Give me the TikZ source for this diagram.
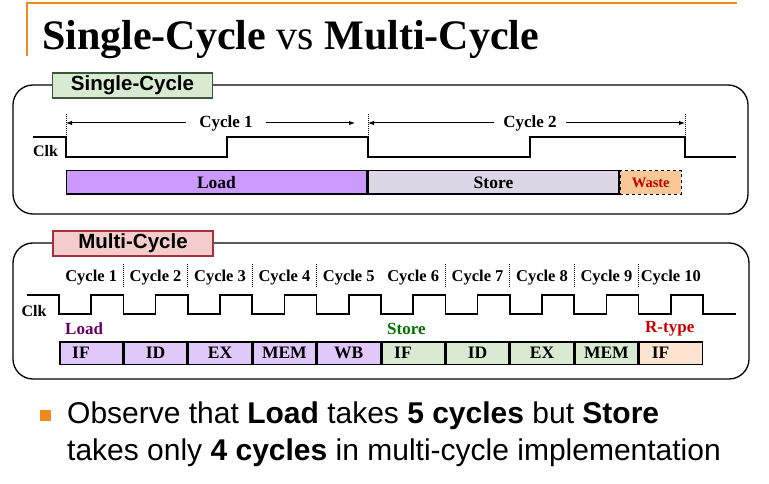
\documentclass[tikz,border=0pt]{standalone}
\usepackage{fontspec}
\setmainfont{Liberation Serif}
\setsansfont{Liberation Sans}
\usetikzlibrary{positioning,calc,arrows.meta}

\definecolor{slideorange}{HTML}{F08A1C}
\definecolor{loaddark}{HTML}{CC99FF}
\definecolor{loadlight}{HTML}{E0C8FA}
\definecolor{storegray}{HTML}{DDD6E6}
\definecolor{storelight}{HTML}{D9EAD3}
\definecolor{wastefill}{HTML}{FAC896}
\definecolor{rtypefill}{HTML}{FCE4D0}
\definecolor{taggreen}{HTML}{D9EAD3}
\definecolor{taggreenline}{HTML}{3A573A}
\definecolor{tagpink}{HTML}{F4CCCC}
\definecolor{tagpinkline}{HTML}{A8303C}
\definecolor{txtpurple}{HTML}{660066}
\definecolor{txtgreen}{HTML}{007000}
\definecolor{txtred}{HTML}{C80000}

\begin{document}
\begin{tikzpicture}[x=1pt, y=-1pt,
    panel/.style={draw, line width=1.3pt, rounded corners=20pt},
    tag/.style={draw, line width=1.3pt, minimum width=160pt, minimum height=25pt, inner sep=0pt,
        font=\sffamily\bfseries\fontsize{20.5}{24}\selectfont},
    clk/.style={line width=1.6pt},
    lbl/.style={font=\bfseries\fontsize{17}{20}\selectfont, inner sep=1pt},
    bar/.style={draw, line width=1.5pt, minimum height=23.5pt, inner sep=0pt,
        font=\bfseries\fontsize{17.5}{20}\selectfont},
    stagebox/.style={bar, minimum width=62.9pt, minimum height=22.5pt},
    iftext/.style={text width=38pt, align=left},
    cyclesep/.style={densely dotted, line width=1pt},
    span/.style={-{Latex[length=6pt,width=4.5pt]}, line width=1pt}
]
\useasboundingbox (0,0) rectangle (769,484);

% title bar
\draw[slideorange, line width=1.5pt] (27,56) -- (27,3) -- (737,3);
\node[anchor=base west, inner sep=0pt, font=\fontsize{42}{48}\selectfont] (title) at (42,50)
    {\textbf{Single-Cycle} vs \textbf{Multi-Cycle}};

% ---- single-cycle panel ----
\draw[panel] (13,85) rectangle (748,214);
\node[tag, fill=taggreen, draw=taggreenline] (sctag) at (132.5,85.5) {Single-Cycle};

\coordinate (s0) at (66,137);
\coordinate (s1) at (368,137);
\coordinate (s2) at (685,137);
\draw[clk] (33,137) -- (s0) -- ++(0,20) -- (227,157) -- (227,137) -- (s1) -- ++(0,20)
    -- (530,157) -- (530,137) -- (s2) -- ++(0,20) -- (736,157);
\foreach \m in {s0,s1,s2}
    \draw[cyclesep] (\m) -- ++(0,-24);
\node[lbl, font=\bfseries\fontsize{16}{19}\selectfont] (sclk) at (45.5,151) {Clk};

\node[lbl, inner xsep=13pt] (sc1) at (226,123) {Cycle 1};
\node[lbl, inner xsep=9pt] (sc2) at (530,123) {Cycle 2};
\draw[span] (sc1) -- (s0 |- sc1);
\draw[span] (sc1) -- ($(s1 |- sc1)+(-13,0)$);
\draw[span] (sc2) -- (s1 |- sc2);
\draw[span] (sc2) -- (s2 |- sc2);

\node[bar, fill=loaddark, minimum width=300pt] (sload) at (216.5,182.5) {Load};
\node[bar, fill=storegray, minimum width=251pt, right=0pt of sload] (sstore) {Store};
\node[bar, fill=wastefill, minimum width=61pt, dashed, line width=1pt, text=txtred,
    font=\bfseries\fontsize{14.5}{17}\selectfont, right=0pt of sstore] (swaste) {Waste};

% ---- multi-cycle panel ----
\draw[panel] (13,243) rectangle (749,379);
\node[tag, fill=tagpink, draw=tagpinkline] (mctag) at (133,243.5) {Multi-Cycle};

\draw[clk] (27,295) \foreach \k in {0,...,9} { -- ({59+64.4*\k},295) -- ++(0,19) -- ++(32.2,0) -- ++(0,-19) }
    -- (703,295) -- ++(0,19) -- (736,314);
\node[lbl, font=\bfseries\fontsize{16}{19}\selectfont] (mclk) at (34,311) {Clk};

\foreach \k in {1,...,10}
    \node[lbl, font=\bfseries\fontsize{16.5}{19}\selectfont] (mc\k) at ({59+64.4*(\k-0.5)},278) {Cycle \k};
\foreach \k in {1,2,3,4,6,7,8,9}
    \draw[cyclesep] ({59+64.4*\k},264) -- ({59+64.4*\k},288);

\node[lbl, anchor=west, inner sep=0pt, text=txtpurple] (mload) at (65,329) {Load};
\node[lbl, anchor=west, inner sep=0pt, text=txtgreen] (mstore) at (387,329) {Store};
\node[lbl, anchor=west, inner sep=0pt, text=txtred] (mrtype) at (645,329) {R-type};

\foreach \s/\f/\o [count=\i from 0] in {IF/loadlight/iftext, ID/loadlight/, EX/loadlight/,
        MEM/loadlight/, WB/loadlight/, IF/storelight/iftext, ID/storelight/, EX/storelight/,
        MEM/storelight/, IF/rtypefill/iftext}
    \node[stagebox, fill=\f, \o] (st\i) at ({59+64.4*(\i+0.5)},353) {\s};

% ---- bullet ----
\node[fill=slideorange, minimum size=11pt, inner sep=0pt] (bul) at (45.5,415.5) {};
\node[anchor=base west, inner sep=0pt, font=\sffamily\fontsize{30}{36}\selectfont] (obs1) at (67,423)
    {Observe that \textbf{Load} takes \textbf{5 cycles} but \textbf{Store}};
\node[anchor=base west, inner sep=0pt, font=\sffamily\fontsize{30}{36}\selectfont] (obs2) at (67,460)
    {takes only \textbf{4 cycles} in multi-cycle implementation};
\end{tikzpicture}
\end{document}
